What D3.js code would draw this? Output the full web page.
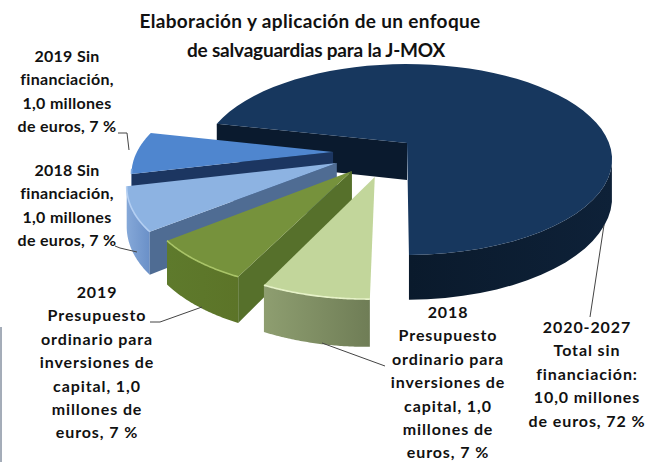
<!DOCTYPE html>
<html><head><meta charset="utf-8">
<style>html,body{margin:0;padding:0;background:#fff}svg{display:block}text{font-family:Lato,sans-serif;font-weight:700;fill:#111;text-anchor:middle}</style>
<script src="https://cdn.jsdelivr.net/npm/d3@7"></script>
</head><body><svg id="c" width="656" height="462"></svg>
<script>
const titleLines = ["Elaboración y aplicación de un enfoque","de salvaguardias para la J-MOX"];
const categories = ["2020-2027 Total sin financiación","2018 Presupuesto ordinario","2019 Presupuesto ordinario","2018 Sin financiación","2019 Sin financiación"];
const values = [10,1,1,1,1];
const labelLines = [
 ["2020-2027","Total sin","financiación:","10,0 millones","de euros, 72 %"],
 ["2018","Presupuesto","ordinario para","inversiones de","capital, 1,0","millones de","euros, 7 %"],
 ["2019","Presupuesto","ordinario para","inversiones de","capital, 1,0","millones de","euros, 7 %"],
 ["2018 Sin","financiación,","1,0 millones","de euros, 7 %"],
 ["2019 Sin","financiación,","1,0 millones","de euros, 7 %"]];
// layout / style
const labelX=[587,448,97,67,67], labelY=[333,318,298,176,62], lineH=23.4, labelSpacing=[.9,.9,.9,.3,.3];
const titleX=[310,316], titleSpacing=[.35,-.2];
const leaders=[[[604,225],[590,317]],[[322,343],[385,366]],[[202,307],[160,322],[150,322]],[[137,252],[120,248],[115,246]],[[129,150],[127,133],[118,133]]];
const explode=[[0,0],[-.15,-.345],[-.259,-.2875],[-.335,-.208],[-.36,-.0955]];
const radius=[1,.96,.96,.975,.955];
const topFill=["#17375e","#c2d69b","#76923c","#8db3e2","#4f86cf"];
const wallFill=["#0a1a2e",null,"#56702b","#4f6c93","#1c3661"];
const rimStops=[["#0a1a2c","#0e2138"],["#8e9e70","#6f7d56"],["#5e7a2c","#5c7428"],["#85a8d8","#6a90c8"],["#4a7cc0","#4a7cc0"]];
const rimHi=[null,"#e6f2c8","#a9c468","#b4cff2","#7ea9e0"];
const drawOrder=[0,4,3,2,1];
const cx=407,cy=143,a=.173,T=37;
const sx=d3.scaleLinear().domain([-1,1]).range([cx-202,cx+202]);
const sy=d3.scaleLinear().domain([-1,1]).range([cy+92.6,cy-92.6]);
const svg=d3.select("#c");
const defs=svg.append("defs");
const line=d3.line();
// perspective projection of the tilted pie plane
function P(X,V,down){const w=1+a*V;return [cx+(sx(X)-cx)/w,cy+(sy(V)-cy)/w+(down?T/w:0)];}
const arcs=d3.pie().sort(null).startAngle(-77.6*Math.PI/180).endAngle((360-77.6)*Math.PI/180)(values);
const lo=100*Math.PI/180,hi=260*Math.PI/180;
drawOrder.forEach(i=>{
  const d=arcs[i];
  const o=explode[i],g=svg.append("g");
  const rim=t=>[o[0]+radius[i]*Math.sin(t),o[1]+radius[i]*Math.cos(t)];
  const ts=d3.range(0,61).map(k=>d.startAngle+(d.endAngle-d.startAngle)*k/60);
  // outer wall
  const vis=ts.filter(t=>t>=lo&&t<=hi);
  if(vis.length>1){
    const id="w"+i,lg=defs.append("linearGradient").attr("id",id).attr("gradientUnits","userSpaceOnUse");
    const pts=vis.map(t=>P(...rim(t)));
    lg.attr("x1",d3.min(pts,p=>p[0])).attr("x2",d3.max(pts,p=>p[0])).attr("y1",0).attr("y2",0);
    lg.append("stop").attr("offset",0).attr("stop-color",rimStops[i][0]);
    lg.append("stop").attr("offset",1).attr("stop-color",rimStops[i][1]);
    const bot=vis.map(t=>P(...rim(t),true)).reverse();
    g.append("path").attr("d",line(pts.concat(bot))+"Z").attr("fill",`url(#${id})`);
  }
  // cut wall on the start side
  if(wallFill[i]){
    const q=[P(o[0],o[1]),P(...rim(d.startAngle)),P(...rim(d.startAngle),true),P(o[0],o[1],true)];
    g.append("path").attr("d",line(q)+"Z").attr("fill",wallFill[i]);
  }
  // top surface
  const top=[P(o[0],o[1])].concat(ts.map(t=>P(...rim(t))));
  g.append("path").attr("d",line(top)+"Z").attr("fill",topFill[i]);
  if(rimHi[i]&&vis.length>1) g.append("path").attr("d",line(vis.map(t=>P(...rim(t))))).attr("fill","none").attr("stroke",rimHi[i]).attr("stroke-width",1.6);
});
// leaders
leaders.forEach(l=>svg.append("path").attr("d",line(l)).attr("fill","none").attr("stroke","#444").attr("stroke-width",1));
svg.append("line").attr("x1",1).attr("x2",1).attr("y1",327).attr("y2",462).attr("stroke","#4a5a72").attr("stroke-width",1);
// labels
labelLines.forEach((ls,i)=>ls.forEach((s,j)=>svg.append("text").attr("x",labelX[i]).attr("y",labelY[i]+j*lineH).attr("font-size",16).attr("letter-spacing",labelSpacing[i]).text(s)));
titleLines.forEach((s,j)=>svg.append("text").attr("x",titleX[j]).attr("y",28+j*29).attr("font-size",19).attr("letter-spacing",titleSpacing[j]).text(s));
</script></body></html>
